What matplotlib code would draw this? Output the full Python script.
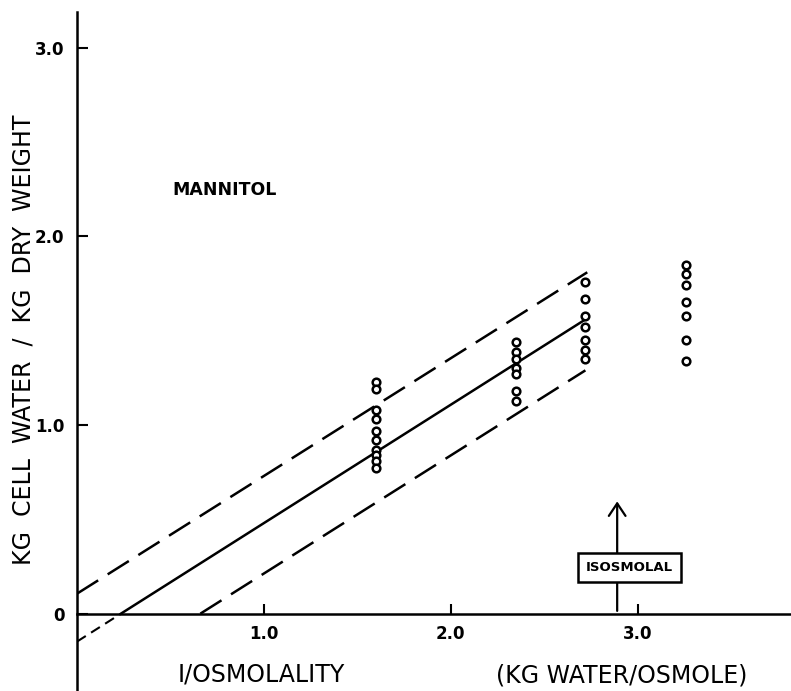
import numpy as np
import matplotlib
matplotlib.use('Agg')
import matplotlib.pyplot as plt
from matplotlib.patches import FancyArrowPatch

# ------------------------------------------------------------
# Data (x = 1/osmolality, y = kg water / kg dry wt)
# ------------------------------------------------------------
x_groups = [1.60, 2.35, 2.72, 3.26]
y_groups = [
    [1.23, 1.19, 1.08, 1.03, 0.97, 0.92, 0.87, 0.84, 0.81, 0.77],
    [1.44, 1.39, 1.35, 1.30, 1.27, 1.18, 1.13],
    [1.76, 1.67, 1.58, 1.52, 1.45, 1.40, 1.35],
    [1.85, 1.80, 1.74, 1.65, 1.58, 1.45, 1.34],
]

# regression line and its confidence limits (end points)
fit_x = [0.235, 2.72]
fit_y = [0.0, 1.56]
extrap_x = [0.0, 0.235]
extrap_y = [-0.148, 0.0]
upper_x = [0.0, 2.73]
upper_y = [0.106, 1.81]
lower_x = [0.66, 2.72]
lower_y = [0.0, 1.29]

isosmolal_x = 2.89

xticks = [1.0, 2.0, 3.0]
xtick_labels = ['1.0', '2.0', '3.0']
yticks = [0.0, 1.0, 2.0, 3.0]
ytick_labels = ['0', '1.0', '2.0', '3.0']

plt.rcParams['font.family'] = ['DejaVu Sans']

fig = plt.figure(figsize=(7.91, 6.91), dpi=100)
ax = fig.add_axes([77 / 791, 0.0, 1 - 77 / 791, 1 - 12 / 691])
ax.set_xlim(0, 3.82)
ax.set_ylim(-0.41, 3.19)

# axes: y spine at x=0, x axis at y=0
for s in ['top', 'right']:
    ax.spines[s].set_visible(False)
ax.spines['left'].set_linewidth(1.8)
ax.spines['bottom'].set_linewidth(1.8)
ax.spines['bottom'].set_position(('data', 0))

ax.set_xticks(xticks)
ax.set_xticklabels(xtick_labels, fontsize=12, fontweight='bold')
ax.set_yticks(yticks)
ax.set_yticklabels(ytick_labels, fontsize=12, fontweight='bold')
ax.tick_params(axis='x', direction='in', length=7, width=1.5, pad=8)
ax.tick_params(axis='y', direction='in', length=8, width=1.5, pad=9)

# lines
ax.plot(fit_x, fit_y, color='black', lw=1.8)
ax.plot(extrap_x, extrap_y, color='black', lw=1.5, dashes=(5, 3))
ax.plot(upper_x, upper_y, color='black', lw=1.8, dashes=(10, 4.5))
ax.plot(lower_x, lower_y, color='black', lw=1.8, dashes=(10, 4.5))

# data points
for xg, yg in zip(x_groups, y_groups):
    ax.plot([xg] * len(yg), yg, 'o', ms=5.5, mfc='white', mec='black',
            mew=1.8, ls='none', zorder=5)

# isosmolal marker
arr = FancyArrowPatch((isosmolal_x, 0.0), (isosmolal_x, 0.61),
                      arrowstyle='->,head_length=6,head_width=4',
                      color='black', lw=1.6, mutation_scale=1.5)
ax.add_patch(arr)
ax.text(2.955, 0.245, 'ISOSMOLAL', fontsize=9.5, fontweight='bold',
        ha='center', va='center', zorder=6,
        bbox=dict(boxstyle='square,pad=0.6', fc='white', ec='black', lw=1.8))

ax.text(0.51, 2.245, 'MANNITOL', fontsize=12.5, fontweight='bold',
        ha='left', va='center')

# axis titles
fig.text(24 / 791, 1 - 340 / 691, 'KG  CELL  WATER  /  KG  DRY  WEIGHT',
         rotation=90, fontsize=17, ha='center', va='center')
fig.text(261 / 791, 1 - 675 / 691, 'I/OSMOLALITY', fontsize=17,
         ha='center', va='center')
fig.text(622 / 791, 1 - 675 / 691, '(KG WATER/OSMOLE)', fontsize=17,
         ha='center', va='center')

plt.savefig('out.png', dpi=100)
plt.close()
